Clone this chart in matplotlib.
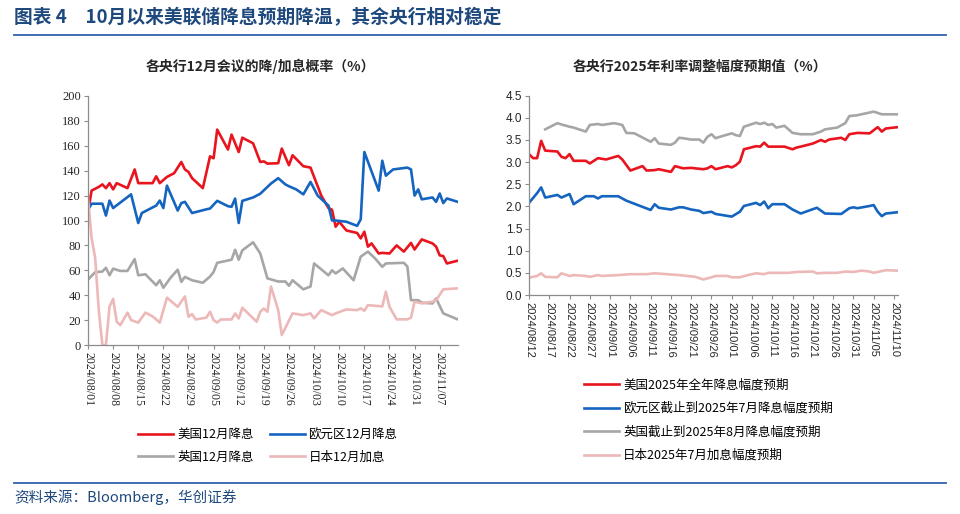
import pandas as pd
import matplotlib
matplotlib.use("Agg")  # headless
import matplotlib.pyplot as plt
from matplotlib.lines import Line2D
from matplotlib.ticker import FormatStrFormatter

plt.rcParams['font.family'] = ['Noto Sans CJK SC', 'DejaVu Sans']

TITLE = "图表 4　10月以来美联储降息预期降温，其余央行相对稳定"
SOURCE = "资料来源：Bloomberg，华创证券"
LEFT_TITLE = "各央行12月会议的降/加息概率（%）"
RIGHT_TITLE = "各央行2025年利率调整幅度预期值（%）"

# ---- left chart: Dec meeting probabilities, days counted from 2024-08-01
LEFT_START = "2024-08-01"
left_names = ["美国12月降息", "欧元区12月降息", "英国12月降息", "日本12月加息"]

us_day = [0, 1, 3, 4, 5, 6, 7, 8, 11, 13, 14, 18, 19, 20, 22, 24, 26, 27, 28, 29,
          32, 34, 35, 36, 39, 40, 42, 43, 46, 48, 49, 50, 53, 54, 55, 56, 57, 60, 62, 65,
          67, 68, 69, 70, 72, 75, 76, 77, 78, 79, 81, 82, 84, 86, 88, 90, 91, 93, 96, 97,
          98, 99, 100, 103]
us_val = [107, 124, 127, 129, 126, 130, 125, 130, 126, 141, 130, 130, 135.5, 130, 135, 138, 147, 141, 139, 134,
          126, 151.5, 150, 173, 157, 169, 155, 166.5, 162, 147, 147.5, 145.7, 146, 157.8, 151, 144.4, 152.4, 143.6, 142.5, 120,
          110, 108.6, 95, 99, 92, 90, 85.6, 91, 79, 81.6, 73.5, 74, 73.5, 80, 75, 82, 76.7, 84.8, 81.6, 79,
          72, 71.4, 65.5, 67.7]

eu_day = [0, 1, 4, 5, 6, 7, 12, 14, 15, 19, 20, 21, 22, 25, 26, 27, 29, 33, 34, 36,
          39, 40, 41, 42, 43, 46, 47, 48, 51, 53, 55, 56, 58, 60, 62, 64, 67, 68, 69, 72,
          75, 76, 77, 81, 82, 83, 85, 89, 90, 91, 92, 93, 96, 97, 98, 99, 100, 103]
eu_val = [108.5, 113.5, 113.5, 104, 116, 110, 121, 98, 106, 112, 116, 110, 128, 108, 114, 115, 106, 109, 109.6, 115.8,
          111.5, 111, 117.6, 98, 115.8, 118.5, 120, 121.5, 129.7, 134, 129, 127.5, 125, 121, 131, 120, 112, 100, 100, 99,
          95.7, 101, 155, 124, 148, 136, 141, 142.5, 141, 120, 125, 117, 118.5, 115, 121.7, 114, 117.7, 115]

uk_day = [0, 2, 4, 5, 6, 7, 9, 11, 13, 14, 16, 19, 20, 21, 23, 25, 26, 27, 29, 32,
          34, 35, 36, 40, 41, 42, 43, 46, 48, 50, 53, 55, 56, 57, 60, 62, 63, 67, 68, 69,
          71, 74, 76, 78, 80, 82, 83, 88, 89, 90, 92, 93, 96, 97, 99, 103]
uk_val = [52.5, 58.5, 59, 62, 56, 61.3, 59.5, 59.5, 69, 56, 56.8, 48, 52, 46, 54, 60.5, 50.7, 54.7, 52, 50,
          55, 58.7, 66, 68.5, 76.5, 68.5, 76, 82.5, 73.5, 53.5, 51, 51, 47.6, 52, 44.7, 47, 65.5, 56, 60, 57.5,
          61.5, 52, 71, 75, 69.5, 62.8, 65.5, 66, 63, 36, 36, 34, 33.4, 37.4, 25.4, 20.6]

jp_day = [0, 1, 2, 3, 4, 5, 6, 7, 8, 9, 11, 12, 14, 16, 18, 20, 22, 25, 27, 28,
          29, 30, 33, 34, 35, 36, 37, 40, 41, 42, 43, 47, 48, 49, 50, 51, 53, 54, 57, 60,
          62, 63, 65, 68, 69, 72, 75, 76, 77, 78, 82, 83, 84, 86, 89, 90, 91, 93, 96, 97,
          99, 103]
jp_val = [118, 86, 70, 28, 0, 0, 31, 37, 18.7, 16, 26, 20, 18, 26, 23, 18, 38, 30.7, 39, 22.7,
          24.8, 20.5, 22, 26.7, 20, 18, 20.5, 20.5, 25.3, 21.3, 29.9, 18.7, 26.7, 29.3, 26.7, 47, 28, 8, 25.4, 24,
          25.4, 21.4, 28, 24, 25.4, 28.6, 28, 29.4, 27.5, 32, 31, 42.8, 30.7, 20.6, 20.6, 22, 34.8, 33.4, 34.8, 36,
          44.7, 45.5]

# ---- right chart: expected 2025 rate moves, days counted from 2024-08-12
RIGHT_START = "2024-08-12"
right_names = ["美国2025年全年降息幅度预期", "欧元区截止到2025年7月降息幅度预期",
               "英国截止到2025年8月降息幅度预期", "日本2025年7月加息幅度预期"]

us25_day = [0, 1, 2, 3, 4, 7, 8, 9, 10, 11, 14, 15, 17, 19, 22, 23, 25, 28, 29, 31,
            32, 35, 36, 38, 40, 43, 44, 45, 46, 49, 50, 51, 52, 53, 56, 57, 58, 59, 63, 65,
            66, 67, 70, 72, 73, 74, 77, 78, 79, 81, 84, 86, 87, 88, 91]
us25_val = [3.18, 3.09, 3.09, 3.48, 3.26, 3.24, 3.12, 3.09, 3.18, 3.03, 3.03, 2.97, 3.09, 3.06, 3.14, 3.06, 2.81, 2.91, 2.81, 2.82,
            2.84, 2.78, 2.91, 2.86, 2.87, 2.84, 2.86, 2.91, 2.84, 2.91, 2.88, 2.93, 3.01, 3.29, 3.36, 3.35, 3.44, 3.35, 3.35, 3.29,
            3.33, 3.35, 3.42, 3.50, 3.46, 3.51, 3.55, 3.50, 3.63, 3.66, 3.65, 3.79, 3.69, 3.76, 3.79]

eu25_day = [0, 2, 3, 4, 7, 8, 10, 11, 14, 16, 17, 18, 22, 24, 30, 31, 32, 35, 37, 38,
            40, 42, 43, 45, 46, 50, 52, 53, 56, 57, 58, 59, 60, 63, 65, 67, 71, 73, 77, 79,
            80, 81, 84, 85, 86, 87, 88, 91]
eu25_val = [2.08, 2.30, 2.43, 2.20, 2.26, 2.20, 2.28, 2.05, 2.23, 2.23, 2.18, 2.23, 2.23, 2.13, 1.92, 2.05, 1.97, 1.93, 1.98, 1.98,
            1.93, 1.90, 1.85, 1.88, 1.83, 1.77, 1.88, 2.01, 2.08, 2.03, 2.11, 1.96, 2.05, 2.05, 1.93, 1.84, 1.97, 1.84, 1.83, 1.96,
            1.98, 1.96, 2.01, 2.03, 1.88, 1.78, 1.84, 1.87]

uk25_day = [4, 7, 8, 10, 11, 14, 15, 17, 18, 21, 23, 24, 26, 30, 31, 32, 35, 36, 37, 38,
            40, 42, 43, 44, 45, 46, 47, 50, 51, 52, 53, 56, 57, 58, 59, 60, 61, 63, 65, 67,
            70, 72, 73, 76, 78, 79, 81, 83, 85, 87, 91]
uk25_val = [3.74, 3.88, 3.85, 3.80, 3.78, 3.69, 3.84, 3.86, 3.84, 3.88, 3.84, 3.66, 3.65, 3.46, 3.54, 3.42, 3.39, 3.44, 3.55, 3.54,
            3.51, 3.51, 3.44, 3.57, 3.63, 3.54, 3.57, 3.65, 3.61, 3.59, 3.80, 3.89, 3.86, 3.89, 3.84, 3.86, 3.78, 3.82, 3.66, 3.63,
            3.63, 3.69, 3.74, 3.78, 3.88, 4.04, 4.06, 4.10, 4.14, 4.08, 4.08]

jp25_day = [0, 2, 3, 4, 7, 8, 10, 11, 14, 15, 17, 18, 22, 25, 29, 31, 34, 37, 41, 43,
            45, 46, 49, 50, 52, 54, 56, 58, 59, 64, 66, 70, 71, 73, 76, 78, 80, 82, 84, 85,
            88, 91]
jp25_val = [0.39, 0.43, 0.49, 0.41, 0.40, 0.49, 0.43, 0.45, 0.43, 0.41, 0.45, 0.43, 0.45, 0.47, 0.47, 0.49, 0.47, 0.45, 0.41, 0.35,
            0.40, 0.43, 0.43, 0.40, 0.40, 0.45, 0.49, 0.47, 0.50, 0.50, 0.52, 0.53, 0.49, 0.50, 0.50, 0.53, 0.52, 0.55, 0.53, 0.50,
            0.56, 0.55]

COLORS = ["#E9141D", "#1565C0", "#A6A6A6", "#EDB8B8"]
TITLE_BLUE = "#1F497D"
RULE_BLUE = "#2E64A8"
AXIS_GREY = "#8C8C8C"


def to_dates(start, days):
    return pd.Timestamp(start) + pd.to_timedelta(days, unit="D")


def style_axis(ax):
    for s in ["top", "right"]:
        ax.spines[s].set_visible(False)
    for s in ["left", "bottom"]:
        ax.spines[s].set_color(AXIS_GREY)
        ax.spines[s].set_linewidth(0.9)
    ax.tick_params(direction="out", length=3, width=0.8, color=AXIS_GREY,
                   labelcolor="#262626", pad=2)


fig = plt.figure(figsize=(9.6, 5.14), dpi=100)

# header / footer
fig.text(0.0146, 0.966, TITLE, fontsize=13.5, fontweight="bold", color=TITLE_BLUE,
         va="center", ha="left")
fig.add_artist(Line2D([0.0146, 0.985], [0.932, 0.932], color=RULE_BLUE, lw=1.3))
fig.add_artist(Line2D([0.0146, 0.985], [0.0603, 0.0603], color=RULE_BLUE, lw=1.3))
fig.text(0.0146, 0.033, SOURCE, fontsize=10.5, style="italic", color=TITLE_BLUE,
         va="center", ha="left")

# left chart
axl = fig.add_axes([88 / 960, 1 - 345 / 514, 370 / 960, 249 / 514])
left_series = [(us_day, us_val), (eu_day, eu_val), (uk_day, uk_val), (jp_day, jp_val)]
for (d, v), c, n in zip(left_series, COLORS, left_names):
    axl.plot(to_dates(LEFT_START, d), v, color=c, lw=1.9, label=n)
style_axis(axl)
axl.set_ylim(0, 200)
axl.set_yticks(range(0, 201, 20))
start_l = pd.Timestamp(LEFT_START)
axl.set_xlim(start_l, start_l + pd.Timedelta(days=103.1))
lticks = pd.date_range("2024-08-01", "2024-11-07", freq="7D")
axl.set_xticks(lticks)
axl.set_xticklabels([t.strftime("%Y/%m/%d") for t in lticks], rotation=-90,
                    family="Liberation Serif", fontsize=8.5)
for lab in axl.get_yticklabels():
    lab.set_family("Liberation Serif")
    lab.set_fontsize(9)
fig.text(0.271, 0.870, LEFT_TITLE, fontsize=10, fontweight="bold", color="#262626",
         ha="center", va="center")
# legend fills column-wise: order so rows read 美国/欧元区, 英国/日本
lines = axl.get_lines()
order = [0, 2, 1, 3]
fig.legend(handles=[lines[i] for i in order], labels=[left_names[i] for i in order],
           ncol=2, frameon=False, loc="upper left",
           bbox_to_anchor=(132 / 960, 1 - 422 / 514),
           borderpad=0, handlelength=2.8, handletextpad=0.3, columnspacing=1.3,
           labelspacing=0.75, fontsize=9)

# right chart
axr = fig.add_axes([529 / 960, 1 - 295 / 514, 369 / 960, 199.3 / 514])
right_series = [(us25_day, us25_val), (eu25_day, eu25_val), (uk25_day, uk25_val), (jp25_day, jp25_val)]
for (d, v), c, n in zip(right_series, COLORS, right_names):
    axr.plot(to_dates(RIGHT_START, d), v, color=c, lw=1.9, label=n)
style_axis(axr)
axr.set_ylim(0, 4.5)
axr.set_yticks([i * 0.5 for i in range(10)])
axr.yaxis.set_major_formatter(FormatStrFormatter("%.1f"))
start_r = pd.Timestamp(RIGHT_START)
axr.set_xlim(start_r, start_r + pd.Timedelta(days=91))
rticks = pd.date_range("2024-08-12", "2024-11-10", freq="5D")
axr.set_xticks(rticks)
axr.set_xticklabels([t.strftime("%Y/%m/%d") for t in rticks], rotation=-90,
                    family="Liberation Sans", fontsize=8)
for lab in axr.get_yticklabels():
    lab.set_family("Liberation Sans")
    lab.set_fontsize(8.5)
fig.text(0.729, 0.870, RIGHT_TITLE, fontsize=10, fontweight="bold", color="#262626",
         ha="center", va="center")
fig.legend(handles=axr.get_lines(), labels=right_names, ncol=1, frameon=False,
           loc="upper left", bbox_to_anchor=(578 / 960, 1 - 372 / 514),
           borderpad=0, handlelength=2.8, handletextpad=0.3,
           labelspacing=0.85, fontsize=9)

fig.savefig("out.png", dpi=100)
plt.close(fig)
